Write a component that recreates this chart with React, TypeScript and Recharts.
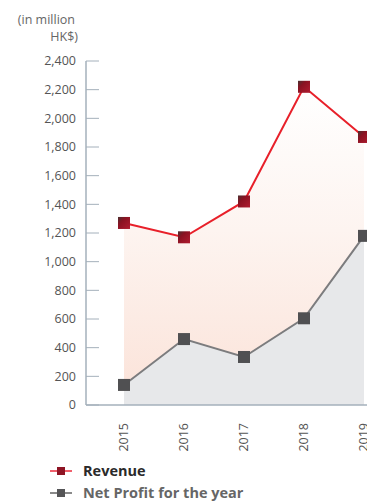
import React from "react";
import { AreaChart, Area, XAxis, YAxis, Legend } from "recharts";

const years = ["2015", "2016", "2017", "2018", "2019"];
const revenue = [1270, 1170, 1420, 2220, 1870];
const netProfit = [140, 460, 335, 605, 1180];
const yTicks = [0, 200, 400, 600, 800, 1000, 1200, 1400, 1600, 1800, 2000, 2200, 2400];
const seriesNames = ["Revenue", "Net Profit for the year"];

const data = years.map((y, i) => ({ year: y, revenue: revenue[i], netProfit: netProfit[i] }));

const FONT = "'Open Sans', 'DejaVu Sans', sans-serif";
const AXIS_COLOR = "#a4b0bb";

const YTick = (props: any) => {
  const { x, y, payload } = props;
  return (
    <g>
      <line x1={x} x2={x + 13} y1={y} y2={y} stroke={AXIS_COLOR} strokeWidth={1} />
      <text x={x - 10} y={y} dy="0.35em" textAnchor="end" fontSize={12.5} fill="#555" fontFamily={FONT}>
        {payload.value.toLocaleString("en-US")}
      </text>
    </g>
  );
};

const XTick = (props: any) => {
  const { x, y, payload } = props;
  const ty = y + 18;
  return (
    <text
      x={x}
      y={ty}
      dy="0.3em"
      textAnchor="end"
      transform={`rotate(-90, ${x}, ${ty})`}
      fontSize={12.5}
      fill="#555"
      fontFamily={FONT}
    >
      {payload.value}
    </text>
  );
};

const RevDot = (props: any) => {
  const { cx, cy } = props;
  if (cx == null || cy == null) return null;
  return <rect x={cx - 6} y={cy - 6} width={12} height={12} fill="url(#revMarker)" />;
};

const NpDot = (props: any) => {
  const { cx, cy } = props;
  if (cx == null || cy == null) return null;
  return <rect x={cx - 6} y={cy - 6} width={12} height={12} fill="#505052" />;
};

const LegendContent = () => {
  const items = [
    { name: seriesNames[0], line: "#f0606c", marker: "#8e1424", text: "#2a2a2a" },
    { name: seriesNames[1], line: "#8a8a8a", marker: "#555557", text: "#666666" },
  ];
  return (
    <div style={{ height: 44, width: 360, fontFamily: FONT }}>
      {items.map((it) => (
        <div key={it.name} style={{ height: 22, display: "flex", alignItems: "center" }}>
          <svg width={75} height={22} style={{ flex: "none" }}>
            <line x1={42} x2={64} y1={11} y2={11} stroke={it.line} strokeWidth={2} />
            <rect x={49} y={7} width={8} height={8} fill={it.marker} />
          </svg>
          <span style={{ fontWeight: 700, fontSize: 14.5, color: it.text, lineHeight: "22px" }}>{it.name}</span>
        </div>
      ))}
    </div>
  );
};

export default function App() {
  return (
    <div style={{ position: "relative", width: 367, height: 501, overflow: "hidden" }}>
      <style>{`html,body{margin:0;padding:0;overflow:hidden;}`}</style>
      <div style={{ position: "absolute", left: 8, top: 8 }}>
        <div
          style={{
            position: "absolute",
            left: 0,
            top: 3,
            width: 70,
            textAlign: "right",
            fontFamily: FONT,
            fontSize: 12.5,
            lineHeight: "17px",
            color: "#666",
          }}
        >
          <div style={{ marginRight: 3 }}>(in million</div>
          <div>HK$)</div>
        </div>
        <AreaChart
          width={400}
          height={496}
          data={data}
          margin={{ top: 53, right: 0, bottom: 0, left: 0 }}
        >
          <defs>
            <linearGradient id="revFill" x1="0" y1="0" x2="0" y2="1">
              <stop offset="0%" stopColor="#ffffff" stopOpacity={1} />
              <stop offset="45%" stopColor="#fdf4f0" stopOpacity={1} />
              <stop offset="100%" stopColor="#fbe2d8" stopOpacity={1} />
            </linearGradient>
            <linearGradient id="revMarker" x1="0" y1="0" x2="1" y2="1">
              <stop offset="0%" stopColor="#4a3030" />
              <stop offset="35%" stopColor="#8a1222" />
              <stop offset="100%" stopColor="#b01c30" />
            </linearGradient>
          </defs>
          <XAxis
            dataKey="year"
            height={55}
            padding={{ left: 38, right: 44 }}
            axisLine={{ stroke: AXIS_COLOR, strokeWidth: 1.5 }}
            tickLine={false}
            tickSize={0}
            tickMargin={0}
            tick={<XTick />}
            interval={0}
          />
          <YAxis
            width={78}
            domain={[0, 2400]}
            ticks={yTicks}
            interval={0}
            axisLine={{ stroke: AXIS_COLOR, strokeWidth: 1.5 }}
            tickLine={false}
            tickSize={0}
            tickMargin={0}
            tick={<YTick />}
          />
          <Legend
            layout="horizontal"
            verticalAlign="bottom"
            align="left"
            wrapperStyle={{ left: 0, width: 360 }}
            content={<LegendContent />}
          />
          <Area
            type="linear"
            dataKey="revenue"
            name={seriesNames[0]}
            stroke="#e8202a"
            strokeWidth={2}
            fill="url(#revFill)"
            fillOpacity={1}
            dot={<RevDot />}
            activeDot={false}
            isAnimationActive={false}
          />
          <Area
            type="linear"
            dataKey="netProfit"
            name={seriesNames[1]}
            stroke="#7c7c7e"
            strokeWidth={2}
            fill="#e7e8ea"
            fillOpacity={1}
            dot={<NpDot />}
            activeDot={false}
            isAnimationActive={false}
          />
        </AreaChart>
      </div>
    </div>
  );
}
